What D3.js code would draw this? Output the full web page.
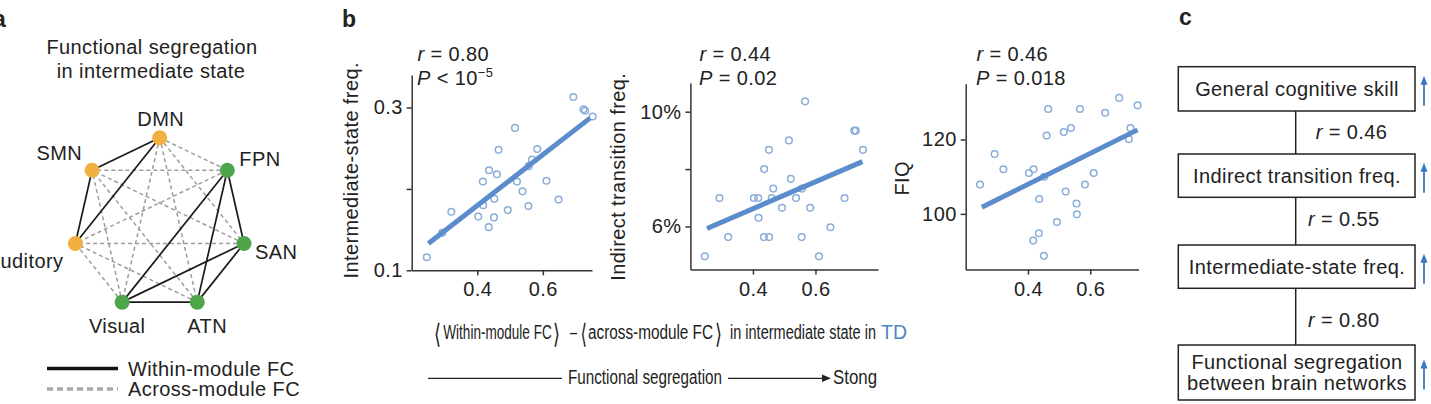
<!doctype html>
<html lang="en">
<head>
  <meta charset="UTF-8">
  <script src="https://cdn.jsdelivr.net/npm/d3@7"></script>
  <title>Functional segregation</title>
  <style>
    body{margin:0;background:#fff;}
    svg{display:block;font-family:"Liberation Sans",Arial,Helvetica,sans-serif;font-size:20px;letter-spacing:0.4px;fill:#222;}
    .axis path,.axis line{stroke:#333;stroke-width:1.5;}
    .axis text{font-size:20px;fill:#222;font-family:"Liberation Sans",Arial,sans-serif;}
    .lbl{font-weight:bold;font-size:23px;letter-spacing:0;}
  </style>
</head>
<body>
  <div class="chart"></div>
  <script>
    // ---- data ----
    const segregation = [0.246,0.293,0.321,0.403,0.417,0.418,0.435,0.436,0.451,0.452,0.460,0.465,0.493,
                         0.515,0.521,0.538,0.556,0.557,0.567,0.583,0.611,0.648,0.693,0.724,0.729,0.752];
    const intermediateFreq = [0.116,0.146,0.172,0.166,0.209,0.180,0.153,0.223,0.165,0.188,0.218,0.248,0.174,
                              0.275,0.209,0.197,0.179,0.228,0.236,0.249,0.210,0.187,0.313,0.298,0.296,0.289];
    const indirectFreq = [0.0496,0.0699,0.0563,0.0699,0.0699,0.0630,0.0563,0.0800,0.0867,0.0563,0.0699,0.0732,0.0665,
                          0.0900,0.0766,0.0699,0.0563,0.0732,0.1036,0.0665,0.0496,0.0597,0.0699,0.0934,0.0934,0.0867];
    const fiq = [107.9,116.1,112.0,111.0,92.8,112.0,94.8,104.0,88.7,110.0,121.1,128.2,97.8,
                 122.0,106.0,123.1,102.8,99.9,128.2,107.9,111.0,127.2,131.2,120.1,123.1,129.2];
    const fitX = [[0.251,0.744],[0.253,0.750],[0.252,0.752]];
    const fitY = [[0.133,0.287],[0.0593,0.0826],[101.8,122.6]];
    const rValues = ["0.80","0.44","0.46"];
    const pValues = [["< 10","−5"],["= 0.02",""],["= 0.018",""]];
    const yTitles = ["Intermediate-state freq.","Indirect transition freq.","FIQ"];
    const xTicks = [0.4,0.6];
    const xTickLabels = ["0.4","0.6"];
    const yTicks = [[0.1,0.2,0.3],[0.06,0.08,0.10],[100,120]];
    const yTickLabels = [["0.1","","0.3"],["6%","","10%"],["100","120"]];

    const nodeNames = ["DMN","FPN","SAN","ATN","Visual","Auditory","SMN"];
    const nodeModule = [0,1,1,1,1,0,0];
    const legendLabels = ["Within-module FC","Across-module FC"];

    const chainLabels = [["General cognitive skill"],["Indirect transition freq."],["Intermediate-state freq."],
                         ["Functional segregation","between brain networks"]];
    const chainR = ["0.46","0.55","0.80"];

    // ---- layout ----
    const W = 1431, H = 404;
    const blue = "#5b8dcc", dotBlue = "#8aadd9", arrowBlue = "#3b78c2";
    const moduleColor = ["#f2b041","#4fa64a"];

    const svg = d3.select('.chart').append('svg').attr('width', W).attr('height', H);
    svg.append('rect').attr('width', W).attr('height', H).attr('fill', '#fff');

    // panel letters
    svg.append('text').attr('class','lbl').attr('x',-7).attr('y',27).text('a');
    svg.append('text').attr('class','lbl').attr('x',342).attr('y',27).text('b');
    svg.append('text').attr('class','lbl').attr('x',1179).attr('y',25).text('c');

    // ---- panel a: network ----
    const ga = svg.append('g');
    ga.append('text').attr('x',152).attr('y',54).attr('text-anchor','middle').text('Functional segregation');
    ga.append('text').attr('x',151).attr('y',77.5).attr('text-anchor','middle').text('in intermediate state');

    const cx = 159.7, cy = 224.2, R = 86.5;
    const angle = d3.scaleLinear().domain([0, nodeNames.length]).range([-Math.PI/2, 1.5*Math.PI]);
    const nodes = nodeNames.map((n,i) => ({name:n, m:nodeModule[i],
      x: cx + R*Math.cos(angle(i)), y: cy + R*Math.sin(angle(i))}));
    const edges = [];
    d3.range(nodes.length).forEach(i => d3.range(i+1, nodes.length).forEach(j =>
      edges.push({s:nodes[i], t:nodes[j], within: nodes[i].m === nodes[j].m})));
    edges.sort((a,b) => a.within - b.within);
    ga.selectAll('line.edge').data(edges).enter().append('line')
      .attr('x1',d=>d.s.x).attr('y1',d=>d.s.y).attr('x2',d=>d.t.x).attr('y2',d=>d.t.y)
      .attr('stroke',d=>d.within ? '#1a1a1a' : '#9d9d9d')
      .attr('stroke-width',d=>d.within ? 1.7 : 1.5)
      .attr('stroke-dasharray',d=>d.within ? null : '4,3');
    ga.selectAll('circle.node').data(nodes).enter().append('circle')
      .attr('cx',d=>d.x).attr('cy',d=>d.y).attr('r',7.5).attr('fill',d=>moduleColor[d.m]);
    // label offsets from the node centre
    const labelPos = {DMN:[1,-12,'middle'],FPN:[12,-4,'start'],SAN:[11,16,'start'],ATN:[10,31,'middle'],
                      Visual:[-5,31,'middle'],Auditory:[-12,25,'end'],SMN:[-10,-10,'end']};
    ga.selectAll('text.node').data(nodes).enter().append('text')
      .attr('x',d=>d.x+labelPos[d.name][0]).attr('y',d=>d.y+labelPos[d.name][1])
      .attr('text-anchor',d=>labelPos[d.name][2]).text(d=>d.name);

    legendLabels.forEach((t,i) => {
      const y = 368.5 + i*20.5;
      ga.append('line').attr('x1',47).attr('x2',118).attr('y1',y).attr('y2',y)
        .attr('stroke', i ? '#a8a8a8' : '#111').attr('stroke-width', 3.5)
        .attr('stroke-dasharray', i ? '6,4' : null);
      ga.append('text').attr('x',128).attr('y',y+7).text(t);
    });

    // ---- panel b: scatter plots ----
    const yData = [intermediateFreq, indirectFreq, fiq];
    const plots = [
      {x:[411.7,592], xd:[0.2,0.75], y:[270.3,75], yd:[0.1,0.34], title:[358,170.3], txt:417.5},
      {x:[690.4,878], xd:[0.2,0.8], y:[269.5,83], yd:[0.045,0.11], title:[625,176.7], txt:699.5},
      {x:[965.7,1138.5], xd:[0.2,0.755], y:[269.6,83.8], yd:[85,135], title:[909,178.3], txt:976.5}
    ];
    plots.forEach((p,k) => {
      const xs = d3.scaleLinear().domain(p.xd).range(p.x);
      const ys = d3.scaleLinear().domain(p.yd).range(p.y);
      const g = svg.append('g');
      g.append('g').attr('class','axis').attr('transform',`translate(0,${p.y[0]})`)
        .call(d3.axisBottom(xs).tickValues(xTicks).tickFormat((d,i)=>xTickLabels[i])
          .tickSize(5).tickSizeOuter(0).tickPadding(7));
      g.append('g').attr('class','axis').attr('transform',`translate(${p.x[0]},0)`)
        .call(d3.axisLeft(ys).tickValues(yTicks[k]).tickFormat((d,i)=>yTickLabels[k][i])
          .tickSize(5).tickSizeOuter(0).tickPadding(4));

      g.selectAll('circle').data(segregation).enter().append('circle')
        .attr('cx',d=>xs(d)).attr('cy',(d,i)=>ys(yData[k][i])).attr('r',3.3)
        .attr('fill','none').attr('stroke',dotBlue).attr('stroke-width',1.5);
      const line = d3.line().x(d=>xs(d[0])).y(d=>ys(d[1]));
      g.append('path').attr('d', line(fitX[k].map((v,i)=>[v, fitY[k][i]])))
        .attr('fill','none').attr('stroke',blue).attr('stroke-width',5);

      g.append('text').attr('transform',`translate(${p.title[0]},${p.title[1]}) rotate(-90)`)
        .attr('text-anchor','middle').text(yTitles[k]);
      const t1 = g.append('text').attr('x',p.txt).attr('y',61);
      t1.append('tspan').attr('font-style','italic').text('r');
      t1.append('tspan').text(' = ' + rValues[k]);
      const t2 = g.append('text').attr('x',p.txt-0.5).attr('y',84.5);
      t2.append('tspan').attr('font-style','italic').text('P');
      t2.append('tspan').text(' ' + pValues[k][0]);
      if (pValues[k][1]) t2.append('tspan').attr('font-size',13).attr('dy',-8).text(pValues[k][1]);
    });

    // shared x caption
    const seg1 = [
      {t:'⟨', x:434, w:7, big:1}, {t:'Within-module FC', x:443.3, w:108.4},
      {t:'⟩', x:553, w:7, big:1}, {t:'–', x:570, w:7},
      {t:'⟨', x:580.5, w:6.5, big:1}, {t:'across-module FC', x:588, w:125},
      {t:'⟩', x:715, w:7, big:1}, {t:'in intermediate state in', x:730, w:146},
      {t:'TD', x:881, w:26, c:'#4a86c8'}
    ];
    const cap = svg.append('g');
    cap.selectAll('text').data(seg1).enter().append('text')
      .attr('x',d=>d.x).attr('y',d=>d.big ? 343 : 339)
      .attr('font-size',d=>d.big ? 27 : 19.5).style('letter-spacing','0')
      .attr('font-family',d=>d.big ? '"DejaVu Sans",sans-serif' : null)
      .attr('fill',d=>d.c || '#222')
      .attr('textLength',d=>d.w).attr('lengthAdjust','spacingAndGlyphs').text(d=>d.t);
    cap.append('line').attr('x1',428).attr('x2',562).attr('y1',378.3).attr('y2',378.3).attr('stroke','#222').attr('stroke-width',1.2);
    cap.append('line').attr('x1',728).attr('x2',824).attr('y1',378.3).attr('y2',378.3).attr('stroke','#222').attr('stroke-width',1.2);
    cap.append('path').attr('d','M822,374.5 L831,378.3 L822,382.1 Z').attr('fill','#222');
    cap.append('text').attr('x',568).attr('y',384).attr('font-size',19.5).style('letter-spacing','0')
      .attr('textLength',154).attr('lengthAdjust','spacingAndGlyphs').text('Functional segregation');
    cap.append('text').attr('x',833).attr('y',384).attr('font-size',19.5).style('letter-spacing','0')
      .attr('textLength',44).attr('lengthAdjust','spacingAndGlyphs').text('Stong');

    // ---- panel c: chain ----
    const gc = svg.append('g');
    const boxX = [1178.3, 1415];
    const boxY = [[66.7,111],[154,197.3],[245,288.3],[345,400]];
    const midX = 1295.7;
    boxY.slice(0,-1).forEach((b,i) => {
      gc.append('line').attr('x1',midX).attr('x2',midX).attr('y1',b[1]).attr('y2',boxY[i+1][0])
        .attr('stroke','#222').attr('stroke-width',1.5);
    });
    chainLabels.forEach((lines,i) => {
      const b = boxY[i];
      gc.append('rect').attr('x',boxX[0]).attr('y',b[0]).attr('width',boxX[1]-boxX[0]).attr('height',b[1]-b[0])
        .attr('fill','#fff').attr('stroke','#222').attr('stroke-width',1.5);
      const c = (b[0]+b[1])/2;
      lines.forEach((t,j) => {
        gc.append('text').attr('x',1297).attr('y', c + 7 + (j - (lines.length-1)/2)*21.7)
          .attr('text-anchor','middle').text(t);
      });
      const top = c - 13, bot = c + 17;
      gc.append('line').attr('x1',1424).attr('x2',1424).attr('y1',top+6).attr('y2',bot)
        .attr('stroke',arrowBlue).attr('stroke-width',1.8);
      gc.append('path').attr('d',`M1424,${top} L1427.5,${top+9} L1420.5,${top+9} Z`).attr('fill',arrowBlue);
    });
    const rY = [139.3, 226, 326.7], rX = [1315.7, 1308, 1308];
    chainR.forEach((r,i) => {
      const t = gc.append('text').attr('x',rX[i]).attr('y',rY[i]);
      t.append('tspan').attr('font-style','italic').text('r');
      t.append('tspan').text(' = ' + r);
    });
  </script>
</body>
</html>
